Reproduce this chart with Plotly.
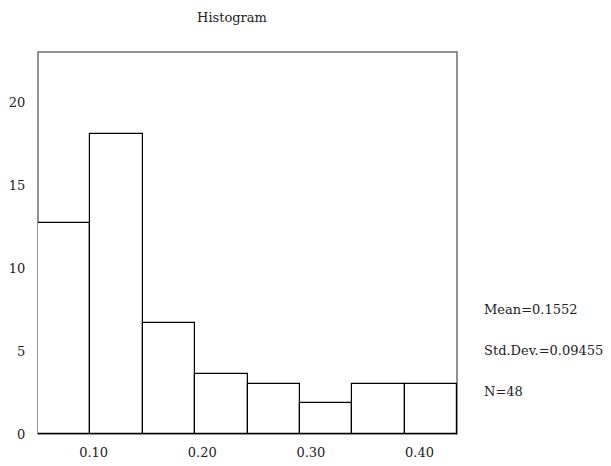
import plotly.graph_objects as go

# Data
bin_edges = [0.0488, 0.0970, 0.1452, 0.1934, 0.2417, 0.2899, 0.3381, 0.3863, 0.4345]
bar_heights = [12.77, 18.14, 6.69, 3.60, 3.00, 1.87, 3.00, 3.00]
x_tick_vals = [0.10, 0.20, 0.30, 0.40]
x_tick_text = ["0.10", "0.20", "0.30", "0.40"]
y_tick_vals = [0, 5, 10, 15, 20]
y_tick_text = ["0", "5", "10", "15", "20"]
stats_text = ["Mean=0.1552", "Std.Dev.=0.09455", "N=48"]
stats_y = [0.326, 0.219, 0.110]  # paper positions of the stats lines

centers = [(bin_edges[i] + bin_edges[i + 1]) / 2 for i in range(len(bar_heights))]
widths = [bin_edges[i + 1] - bin_edges[i] for i in range(len(bar_heights))]

FONT = "DejaVu Serif"
FS = 13
W, H = 603, 458  # page body has an 8px margin

fig = go.Figure()
fig.add_trace(go.Bar(
    x=centers, y=bar_heights, width=widths,
    marker=dict(color="white", line=dict(color="black", width=1.2)),
    hoverinfo="skip",
))

fig.update_layout(
    width=W, height=H,
    margin=dict(l=30, r=153.6, t=44, b=31.5, pad=0, autoexpand=False),
    paper_bgcolor="white", plot_bgcolor="white",
    showlegend=False,
    font=dict(family=FONT, size=FS, color="#222"),
    title=dict(text="Histogram", x=(232 - 8) / W, xanchor="center", y=1 - (17 - 8) / H,
               yanchor="middle", font=dict(family=FONT, size=FS, color="#222")),
    bargap=0,
    xaxis=dict(range=[bin_edges[0], bin_edges[-1]], tickvals=x_tick_vals, ticktext=x_tick_text,
               showgrid=False, zeroline=False, showline=False, automargin=False,
               ticks="outside", ticklen=6, tickcolor="rgba(0,0,0,0)",
               tickfont=dict(family=FONT, size=FS, color="#222")),
    yaxis=dict(range=[0, 23.07], tickvals=y_tick_vals, ticktext=y_tick_text,
               showgrid=False, zeroline=False, showline=False, automargin=False,
               ticks="outside", ticklen=9, tickcolor="rgba(0,0,0,0)",
               tickfont=dict(family=FONT, size=FS, color="#222")),
)

# frame
fig.add_shape(type="rect", xref="paper", yref="paper", x0=0, x1=1, y0=0, y1=1,
              line=dict(color="#707070", width=1.5), layer="below")

for txt, yy in zip(stats_text, stats_y):
    fig.add_annotation(text=txt, xref="paper", yref="paper", x=1.06, y=yy,
                       xanchor="left", yanchor="middle", showarrow=False,
                       font=dict(family=FONT, size=FS, color="#222"))

fig.write_html("out.html")
